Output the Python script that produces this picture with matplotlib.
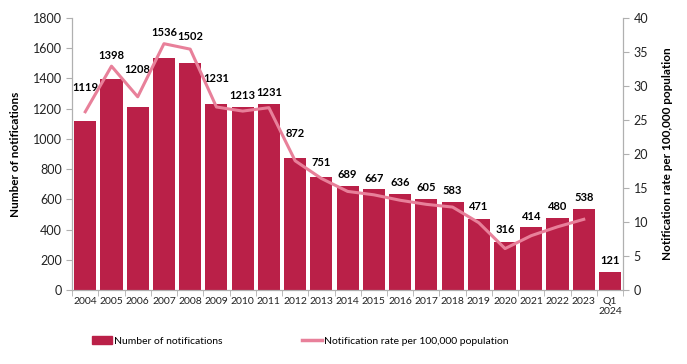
import numpy as np
import matplotlib.pyplot as plt
from matplotlib.lines import Line2D
from matplotlib.patches import Patch

years = ["2004", "2005", "2006", "2007", "2008", "2009", "2010", "2011", "2012",
         "2013", "2014", "2015", "2016", "2017", "2018", "2019", "2020", "2021",
         "2022", "2023", "Q1\n2024"]
notifications = [1119, 1398, 1208, 1536, 1502, 1231, 1213, 1231, 872, 751, 689,
                 667, 636, 605, 583, 471, 316, 414, 480, 538, 121]
# rate per 100,000 (no rate for Q1 2024)
rate = [26.2, 32.9, 28.4, 36.2, 35.4, 26.9, 26.3, 26.8, 19.0, 16.4, 14.5,
        14.0, 13.2, 12.6, 12.2, 9.9, 6.1, 8.0, 9.3, 10.4]

bar_col = "#BA2048"
line_col = "#E8809A"
grey = "#B0B0B0"
plt.rcParams['font.family'] = ['Lato', 'DejaVu Sans']

fig = plt.figure(figsize=(6.87, 3.64), dpi=100)
ax = fig.add_axes([0.105, 0.203, 0.802, 0.748])
ax2 = ax.twinx()

x = np.arange(len(years))
xr = x[:len(rate)]
ax.bar(x, notifications, width=0.84, color=bar_col, zorder=2)
ax2.plot(xr, rate, color=line_col, linewidth=2.2, zorder=3)

ax.set_xlim(-0.5, len(years) - 0.5)
ax.set_ylim(0, 1800)
ax.set_yticks(range(0, 1801, 200))
ax2.set_ylim(0, 40)
ax2.set_yticks(range(0, 41, 5))

# data labels: put them above the bar, or above the line where it crosses the label
scale = 1800 / 40
for i, v in enumerate(notifications):
    top = v
    if i < len(rate):
        near = np.interp([i - 0.3, i, i + 0.3], xr, rate)
        top = max(v, near.max() * scale)
    ax.annotate(str(v), (i, top), xytext=(0, 4), textcoords="offset points",
                ha="center", va="bottom", fontsize=8, fontweight="bold")

ax.set_xticks(x)
ax.set_xticklabels(years, fontsize=7.5)
ax.set_xticks(np.arange(-0.5, len(years), 1), minor=True)
ax.tick_params(axis="x", which="major", length=0, pad=5, colors="#222222")
ax.tick_params(axis="x", which="minor", length=4, color=grey)
ax.tick_params(axis="y", labelsize=9, length=4, color=grey, labelcolor="#222222")
ax2.tick_params(axis="y", labelsize=9, length=4, color=grey, labelcolor="#222222")

for a in (ax, ax2):
    a.spines["top"].set_visible(False)
    for s in ("left", "right", "bottom"):
        a.spines[s].set_color(grey)

ax.set_ylabel("Number of notifications", fontsize=8.5, fontweight="bold",
              labelpad=8)
ax2.set_ylabel("Notification rate per 100,000 population", fontsize=8.5,
               fontweight="bold", labelpad=10)

handles = [Patch(color=bar_col), Line2D([0], [0], color=line_col, linewidth=2.5)]
labels = ["Number of notifications", "Notification rate per 100,000 population"]
fig.legend(handles, labels, loc="center", bbox_to_anchor=(0.437, 0.063), ncol=2,
           frameon=False, fontsize=7.5, columnspacing=7.6, handlelength=1.9,
           handletextpad=0.25)

fig.savefig("out.png", dpi=100)
